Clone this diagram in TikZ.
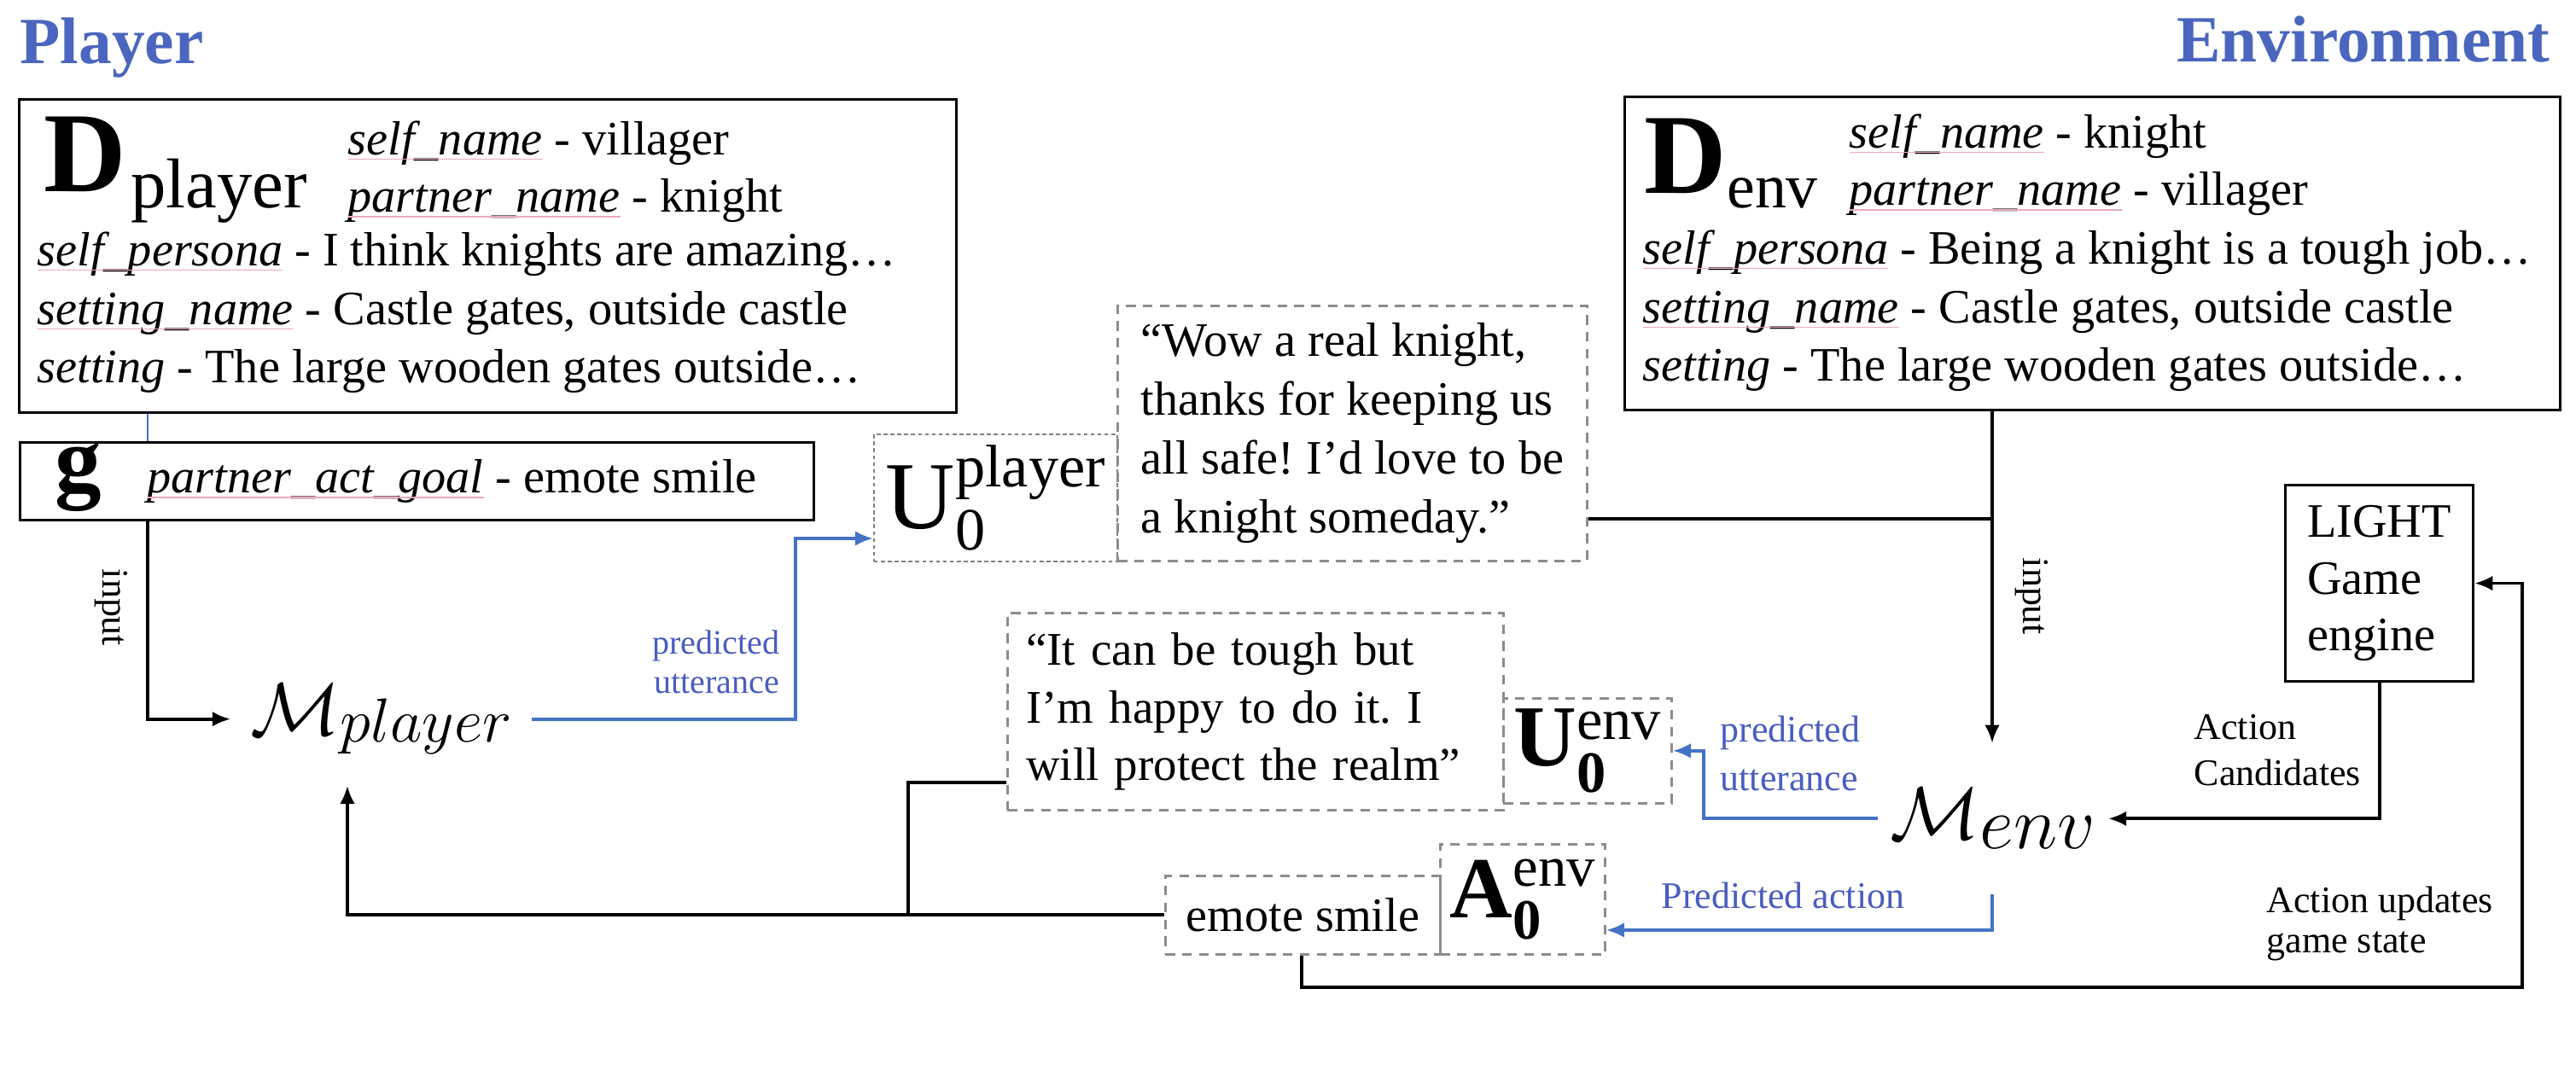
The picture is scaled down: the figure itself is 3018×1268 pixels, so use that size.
\documentclass[tikz,border=0pt]{standalone}
\usepackage{fontspec}
\setmainfont{Liberation Serif}
\usetikzlibrary{arrows.meta}

\definecolor{titleblue}{HTML}{4A66BE}
\definecolor{lineblue}{HTML}{4472C4}
\definecolor{labelblue}{HTML}{4A5DBE}
\definecolor{dashgray}{HTML}{8C8C8C}
\definecolor{squiggle}{HTML}{EBA9B8}

\newcommand{\fsz}[2]{\fontsize{#1}{#2}\selectfont}
\newcommand{\kw}[1]{{\color{squiggle}\underline{\color{black}\smash{\textit{#1}}}}}
\newcommand{\symidx}[5]{#1\raisebox{#4}{#2}\llap{\rlap{\raisebox{-#5}{#3}}\phantom{#2}}}
\newcommand{\model}[4]{{\fsz{#1}{#1}$\mathcal{M}$}\raisebox{-#4}{\fsz{#2}{#2}$#3$}}
\frenchspacing

\begin{document}
\begin{tikzpicture}[x=0.01cm,y=-0.01cm,
  txt/.style={anchor=base west, inner sep=0pt, font=\fsz{16}{19.5}},
  box/.style={draw, line width=.85pt, anchor=north west, inner sep=0pt},
  dbox/.style={draw=dashgray, line width=.75pt, dash pattern=on 3.2pt off 2.4pt, anchor=north west, inner sep=0pt},
  ubox/.style={dbox, draw=gray, line width=.5pt, dash pattern=on 1.3pt off 1pt},
  qtext/.style={align=left, font=\fsz{16}{19.6}},
  arr/.style={line width=1.1pt, -{Latex[length=6pt,width=5pt]}},
  barr/.style={arr, draw=lineblue},
  lbl/.style={inner sep=0pt, font=\fsz{12.5}{15}},
  blbl/.style={lbl, text=labelblue},
  title/.style={inner sep=0pt, text=titleblue, font=\bfseries\fsz{22}{26}}]
\useasboundingbox (0,0) rectangle (3018,1268);

\node[title, anchor=base west] (ptitle) at (23,75) {Player};
\node[title, anchor=base east] (etitle) at (2988,73) {Environment};

% player side
\node[box, minimum width=10.97cm, minimum height=3.67cm] (dplayer) at (21,115) {};
\node[txt] (dpsym) at (51,225) {{\bfseries\fsz{38}{38}D}\kern1.5pt\raisebox{-5.4pt}{\fsz{23.5}{23.5}player}};
\node[txt, align=left, font=\fsz{16}{19.1}] (dpnames) at (407,249) {\kw{self\_name} - villager\\\kw{partner\_name} - knight};
\node[txt, align=left] (dpinfo) at (43,449) {\kw{self\_persona} - I think knights are amazing…\\\kw{setting\_name} - Castle gates, outside castle\\\textit{setting} - The large wooden gates outside…};

\node[box, minimum width=9.29cm, minimum height=0.91cm] (gbox) at (22,517) {};
\node[txt] (gsym) at (64,576) {\bfseries\fsz{31}{31}g};
\node[txt] (gtext) at (172,578) {\kw{partner\_act\_goal} - emote smile};

\node[anchor=base west, inner xsep=6.5pt, inner ysep=10.5pt] (mplayer) at (270,862) {\model{37}{20.5}{player}{2pt}};

\node[ubox, minimum width=2.85cm, minimum height=1.49cm] (uplayer) at (1023,508)
  {\symidx{{\fsz{32}{32}U}}{{\fsz{20}{20}player}}{{\fsz{20}{20}0}}{14pt}{7pt}};
\node[dbox, qtext, minimum width=5.5cm, minimum height=2.99cm] (quote1) at (1308,357)
  {“Wow a real knight,\\thanks for keeping us\\all safe! I’d love to be\\a knight someday.”};

% environment side
\node[box, minimum width=10.95cm, minimum height=3.67cm] (denv) at (1902,112) {};
\node[txt] (desym) at (1926,227) {{\bfseries\fsz{38}{38}D}\raisebox{-4.6pt}{\fsz{21}{21}env}};
\node[txt, align=left, font=\fsz{16}{19.1}] (denames) at (2166,241) {\kw{self\_name} - knight\\\kw{partner\_name} - villager};
\node[txt, align=left] (deinfo) at (1924,447) {\kw{self\_persona} - Being a knight is a tough job…\\\kw{setting\_name} - Castle gates, outside castle\\\textit{setting} - The large wooden gates outside…};

\node[box, align=left, font=\fsz{16}{19}, minimum width=2.2cm, minimum height=2.3cm] (light) at (2676,567) {LIGHT\\Game\\engine};

\node[anchor=base west, inner xsep=4pt, inner ysep=15pt] (menv) at (2200,984) {\model{33}{24}{env}{3pt}};

\node[dbox, qtext, font=\fsz{15.6}{19.2}, text width=5.37cm, inner xsep=.22cm, minimum width=5.81cm, minimum height=2.31cm] (quote2) at (1179,717)
  {“It can be tough but\\I’m happy to do it. I\\will protect the realm”};
\node[dbox, minimum width=1.97cm, minimum height=1.23cm] (uenv) at (1760,817)
  {\symidx{{\bfseries\fsz{29}{29}U}}{{\fsz{19.5}{19.5}env}}{{\bfseries\fsz{19.5}{19.5}0}}{8.8pt}{9pt}};
\node[dbox, minimum width=1.93cm, minimum height=1.29cm] (aenv) at (1686,988)
  {\symidx{{\bfseries\fsz{29}{29}A}}{{\fsz{19}{19}env}}{{\bfseries\fsz{19}{19}0}}{10.5pt}{7pt}};
\node[dbox, font=\fsz{16}{19}, minimum width=3.22cm, minimum height=0.92cm] (emote) at (1364,1025) {emote smile};

% connectors
\coordinate (ginx) at (173,0);
\coordinate (bturn) at (932,631);
\coordinate (envx) at (2334,0);
\coordinate (q1y) at (0,608);
\coordinate (bux) at (1996,0);
\coordinate (acty) at (0,1090);
\coordinate (mpx) at (407,0);
\coordinate (q2join) at (1064,917);
\coordinate (upx) at (1525,0);
\coordinate (loop) at (2955,1157);

\draw[lineblue, line width=.5pt] (dplayer.south -| ginx) -- (gbox.north -| ginx);
\draw[arr] (gbox.south -| ginx) |- (mplayer.west);
\node[lbl, rotate=-90] (inp1) at (130,712) {input};
\draw[barr] (mplayer.east) -| (bturn) -- (uplayer.west |- bturn);
\node[blbl, font=\fsz{11.4}{13.1}, align=right, anchor=base east] (putt1) at (914,813) {predicted\\utterance};

\draw[arr] (denv.south -| envx) -- (menv.north -| envx);
\node[lbl, rotate=-90] (inp2) at (2380,699) {input};
\draw[line width=1.1pt] (quote1.east |- q1y) -- (envx |- q1y);

\draw[arr] (light.south) |- (menv.east);
\node[lbl, align=left, anchor=base west, font=\fsz{12.5}{15.4}] (acand) at (2570,921) {Action\\Candidates};

\draw[barr] (menv.west) -- (menv.west -| bux) |- (uenv.east);
\node[blbl, align=left, anchor=base west, font=\fsz{12.5}{16.3}] (putt2) at (2015,927) {predicted\\utterance};
\draw[barr] (menv.south -| envx) |- (aenv.east |- acty);
\node[blbl, anchor=base west] (pact) at (1946,1065) {Predicted action};

\draw[arr] (emote.west) -| (mplayer.south -| mpx);
\draw[line width=1.1pt] (quote2.west |- q2join) -- (q2join) -- (q2join |- emote.west);
\draw[arr] (emote.south -| upx) |- (loop) |- (light.east);
\node[lbl, align=left, anchor=base west, font=\fsz{12.5}{13.4}] (aupd) at (2655,1117) {Action updates\\game state};
\end{tikzpicture}
\end{document}
